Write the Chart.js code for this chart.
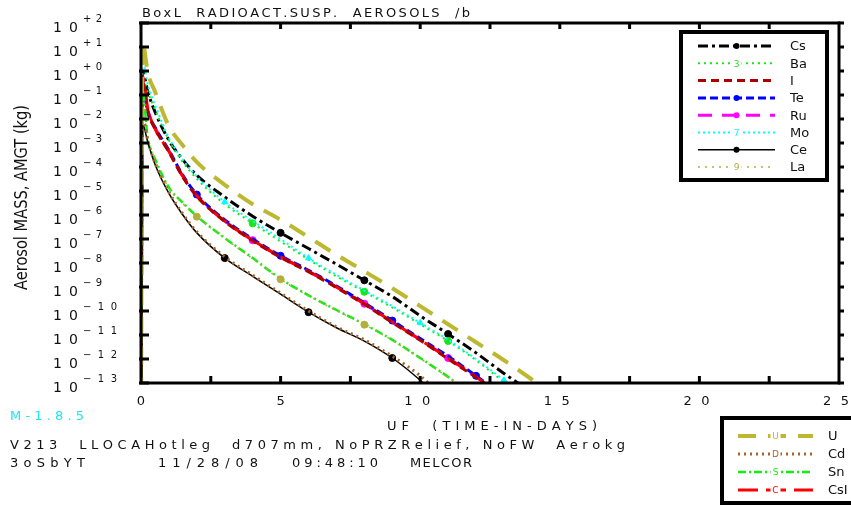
<!DOCTYPE html>
<html>
<head>
<meta charset="utf-8">
<title>BoxL radioact. susp. aerosols</title>
<script src="https://cdn.jsdelivr.net/npm/chart.js@4.4.1/dist/chart.umd.min.js"></script>
<style>
  html, body { margin: 0; padding: 0; background: #fff; }
  canvas { display: block; }
</style>
</head>
<body>
<canvas id="chart" width="851" height="505"></canvas>
<script>
// time axis (days) shared by every series
const days = [0, 0.05, 0.25, 0.5, 1, 1.5, 2, 3, 4, 5, 6, 7, 8, 9, 10, 11, 12, 13, 14, 15];

// suspended aerosol mass (kg)
const csMass  = [1e-16, 1.0, 0.13, 2.0e-2, 1.3e-3, 2.0e-4, 4.5e-5, 5.6e-6, 8.9e-7, 1.8e-7, 4.0e-8, 8.9e-9, 1.9e-9, 4.0e-10, 6.3e-11, 1.1e-11, 1.8e-12, 2.5e-13, 4.0e-14, null];
const baMass  = [1e-16, 0.5, 0.13, 2.5e-2, 1.3e-3, 1.6e-4, 3.2e-5, 2.8e-6, 4.5e-7, 7.9e-8, 1.4e-8, 2.8e-9, 6.3e-10, 1.4e-10, 2.8e-11, 5.6e-12, 8.9e-13, 1.1e-13, 1.4e-14, null];
const iMass   = [1e-16, 0.4, 2.0e-2, 4.0e-3, 4.2e-4, 3.8e-5, 6.0e-6, 5.4e-7, 8.5e-8, 1.7e-8, 4.3e-9, 9.5e-10, 1.9e-10, 3.3e-11, 6.0e-12, 1.0e-12, 1.7e-13, 2.3e-14, null, null];
const teMass  = [1e-16, 0.25, 1.8e-2, 4.5e-3, 5.0e-4, 4.5e-5, 7.1e-6, 6.3e-7, 1.0e-7, 2.0e-8, 5.0e-9, 1.1e-9, 2.2e-10, 4.0e-11, 7.1e-12, 1.3e-12, 2.0e-13, 2.8e-14, null, null];
const ruMass  = [1e-16, 0.2, 2.2e-2, 4.5e-3, 4.5e-4, 4.0e-5, 6.3e-6, 5.6e-7, 8.9e-8, 1.8e-8, 4.5e-9, 1.0e-9, 2.0e-10, 3.5e-11, 6.3e-12, 1.1e-12, 1.8e-13, 2.5e-14, null, null];
const moMass  = [1e-16, 2.5, 0.25, 4.0e-2, 1.6e-3, 2.0e-4, 4.0e-5, 3.5e-6, 5.6e-7, 1.0e-7, 1.6e-8, 3.2e-9, 7.1e-10, 1.6e-10, 3.2e-11, 6.3e-12, 1.0e-12, 1.3e-13, 1.6e-14, null];
const ceMass  = [1e-16, 6.3e-3, 1.0e-3, 1.3e-4, 7.9e-6, 1.0e-6, 1.8e-7, 1.6e-8, 2.8e-9, 5.0e-10, 8.9e-11, 2.0e-11, 5.6e-12, 1.1e-12, 1.3e-13, 1.0e-14, null, null, null, null];
const laMass  = [1e-16, 0.06, 1.1e-3, 2.0e-4, 1.3e-5, 3.0e-6, 8.5e-7, 1.05e-7, 1.5e-8, 2.1e-9, 4.3e-10, 1.05e-10, 2.7e-11, 6.0e-12, 1.05e-12, 1.7e-13, 2.4e-14, null, null, null];
const uMass   = [1e-16, 16, 0.79, 0.14, 5.0e-3, 7.9e-4, 1.6e-4, 1.8e-5, 2.8e-6, 6.3e-7, 1.2e-7, 2.2e-8, 4.5e-9, 8.9e-10, 1.6e-10, 2.8e-11, 5.0e-12, 8.9e-13, 1.4e-13, 2.0e-14];
const cdMass  = [1e-16, 1.0e-2, 1.2e-3, 1.5e-4, 9.0e-6, 1.1e-6, 2.0e-7, 1.8e-8, 3.1e-9, 5.6e-10, 1.0e-10, 2.2e-11, 6.3e-12, 1.3e-12, 2.0e-13, 1.6e-14, null, null, null, null];
const snMass  = [1e-16, 0.16, 1.3e-3, 2.2e-4, 1.4e-5, 3.2e-6, 8.9e-7, 1.1e-7, 1.6e-8, 2.2e-9, 4.5e-10, 1.1e-10, 2.8e-11, 6.3e-12, 1.1e-12, 1.8e-13, 2.5e-14, null, null, null];
const csiMass = [1e-16, 0.6, 2.5e-2, 4.0e-3, 4.5e-4, 4.0e-5, 6.3e-6, 5.6e-7, 8.9e-8, 1.8e-8, 4.5e-9, 1.0e-9, 2.0e-10, 3.5e-11, 6.3e-12, 1.1e-12, 1.8e-13, 2.5e-14, null, null];

// ticks
const yExponents = [2, 1, 0, -1, -2, -3, -4, -5, -6, -7, -8, -9, -10, -11, -12, -13];
const xLabels = [0, 5, 10, 15, 20, 25];
const xTickMarks = [2.5, 5, 7.5, 10, 12.5, 15, 17.5, 20, 22.5];

// legend groups
const legendTop = ['Cs', 'Ba', 'I', 'Te', 'Ru', 'Mo', 'Ce', 'La'];
const legendBottom = ['U', 'Cd', 'Sn', 'CsI'];

// styles (marks = data indices that carry a symbol)
const series = [
  { label: 'U',   data: uMass,   color: '#bdb832', width: 4,   dash: [18, 12],      tag: 'U', marks: [],          shape: 'circle' },
  { label: 'Cd',  data: cdMass,  color: '#a8642a', width: 3,   dash: [2, 4],        tag: 'D', marks: [],          shape: 'triangle' },
  { label: 'Ce',  data: ceMass,  color: '#000000', width: 1.5, dash: [],            tag: '',  marks: [7, 10, 13], shape: 'circle' },
  { label: 'La',  data: laMass,  color: '#b5ae3c', width: 1.5, dash: [2, 5],        tag: '9', marks: [6, 9, 12],  shape: 'circle' },
  { label: 'Sn',  data: snMass,  color: '#11ee11', width: 2.5, dash: [8, 3, 2, 3],  tag: 'S', marks: [],          shape: 'circle' },
  { label: 'I',   data: iMass,   color: '#aa0000', width: 3,   dash: [8, 5],        tag: '',  marks: [],          shape: 'circle' },
  { label: 'CsI', data: csiMass, color: '#ff0000', width: 3,   dash: [20, 8],       tag: 'C', marks: [],          shape: 'circle' },
  { label: 'Te',  data: teMass,  color: '#0000ff', width: 3,   dash: [8, 4],        tag: '',  marks: [6, 9, 13, 16], shape: 'circle' },
  { label: 'Ru',  data: ruMass,  color: '#ff00ff', width: 3,   dash: [14, 10],      tag: '',  marks: [8, 12, 15], shape: 'circle' },
  { label: 'Mo',  data: moMass,  color: '#00ffff', width: 2,   dash: [2, 3],        tag: '7', marks: [7, 10, 14, 17], shape: 'triangle' },
  { label: 'Ba',  data: baMass,  color: '#19e619', width: 2,   dash: [2, 4],        tag: '3', marks: [8, 12, 15], shape: 'circle' },
  { label: 'Cs',  data: csMass,  color: '#000000', width: 3,   dash: [10, 4, 3, 4], tag: '',  marks: [9, 12, 15], shape: 'circle' }
];

function makeDataset(s){
  return {
    label: s.label,
    data: days.map((d, i) => ({ x: d, y: s.data[i] })),
    borderColor: s.color,
    backgroundColor: s.color,
    borderWidth: s.width,
    borderDash: s.dash,
    cubicInterpolationMode: 'monotone',
    spanGaps: false,
    pointStyle: s.shape,
    pointRadius: ctx => s.marks.includes(ctx.dataIndex) ? 3.5 : 0,
    pointBorderWidth: 1,
    tag: s.tag,
    marks: s.marks
  };
}

const FONT = '"DejaVu Sans", sans-serif';

// text with letters spread to fill a given width (plotter look)
function spaced(ctx, str, x, y, width){
  const chars = [...str];
  const widths = chars.map(c => ctx.measureText(c).width);
  const total = widths.reduce((s, w) => s + w, 0);
  const gap = chars.length > 1 ? (width - total) / (chars.length - 1) : 0;
  let cx = x;
  chars.forEach((c, i) => { ctx.fillText(c, cx, y); cx += widths[i] + gap; });
}

function seg(ctx, x1, y1, x2, y2){
  ctx.beginPath(); ctx.moveTo(x1, y1); ctx.lineTo(x2, y2); ctx.stroke();
}

const paper = {
  id: 'paper',
  beforeDraw(chart){
    const ctx = chart.ctx;
    ctx.save();
    ctx.fillStyle = '#fff';
    ctx.fillRect(0, 0, chart.width, chart.height);
    ctx.restore();
  }
};

function drawLegend(ctx, chart, names, box, rowY, step, x1, x2, labelX){
  ctx.save();
  ctx.fillStyle = '#fff';
  ctx.fillRect(box[0], box[1], box[2] - box[0], box[3] - box[1]);
  ctx.strokeStyle = '#000';
  ctx.lineWidth = 4;
  ctx.setLineDash([]);
  ctx.strokeRect(box[0], box[1], box[2] - box[0], box[3] - box[1]);
  names.forEach((name, i) => {
    const ds = chart.data.datasets.find(d => d.label === name);
    const y = rowY + i * step;
    const mid = (x1 + x2) / 2;
    ctx.strokeStyle = ds.borderColor;
    ctx.lineWidth = ds.borderWidth;
    ctx.setLineDash(ds.borderDash);
    seg(ctx, x1, y, x2, y);
    ctx.setLineDash([]);
    if(ds.tag){
      ctx.fillStyle = '#fff';
      ctx.fillRect(mid - 5, y - 6, 10, 12);
      ctx.fillStyle = ds.borderColor;
      ctx.font = '9px ' + FONT;
      ctx.textAlign = 'center';
      ctx.textBaseline = 'middle';
      ctx.fillText(ds.tag, mid, y + 1);
    } else if(ds.marks.length){
      ctx.fillStyle = ds.borderColor;
      ctx.beginPath(); ctx.arc(mid, y, 3, 0, Math.PI * 2); ctx.fill();
    }
    ctx.fillStyle = '#111';
    ctx.font = '13px ' + FONT;
    ctx.textAlign = 'left';
    ctx.textBaseline = 'middle';
    ctx.fillText(name, labelX, y + 1);
  });
  ctx.restore();
}

const decor = {
  id: 'decor',
  afterDraw(chart){
    const { ctx, chartArea: a, scales: { x, y } } = chart;
    ctx.save();
    ctx.setLineDash([]);
    ctx.strokeStyle = '#000';

    // frame and ticks
    ctx.lineWidth = 3;
    ctx.strokeRect(a.left, a.top, a.right - a.left, a.bottom - a.top);
    yExponents.forEach(e => {
      const py = y.getPixelForValue(Math.pow(10, e));
      seg(ctx, a.left - 2, py, a.left + 8, py);
      seg(ctx, a.right - 1, py, a.right + 5, py);
    });
    xTickMarks.forEach(v => {
      const px = x.getPixelForValue(v);
      seg(ctx, px, a.bottom, px, a.bottom - 7);
      seg(ctx, px, a.top, px, a.top + 6);
    });

    ctx.fillStyle = '#111';
    ctx.textAlign = 'left';
    ctx.textBaseline = 'alphabetic';

    // y tick labels: 10 with raised exponent
    yExponents.forEach(e => {
      const py = y.getPixelForValue(Math.pow(10, e));
      ctx.font = '14px ' + FONT;
      spaced(ctx, '10', 53, py + 9, 25);
      const sup = (e >= 0 ? '+' : '\u2212') + Math.abs(e);
      ctx.font = '10px ' + FONT;
      spaced(ctx, sup, 83, py - 1, sup.length > 2 ? 34 : 19);
    });

    // x tick labels
    ctx.font = '13px ' + FONT;
    xLabels.forEach(v => {
      const px = x.getPixelForValue(v);
      const s = String(v);
      if(s.length > 1){
        spaced(ctx, s, px - 3 - 13, 405, 26);
      } else {
        ctx.textAlign = 'center';
        ctx.fillText(s, px, 405);
        ctx.textAlign = 'left';
      }
    });

    // titles
    ctx.font = '13px ' + FONT;
    spaced(ctx, 'BoxL  RADIOACT.SUSP.  AEROSOLS  /b', 142, 17, 328);
    spaced(ctx, 'UF  (TIME-IN-DAYS)', 387, 430, 210);

    // y title, tall and narrow
    ctx.save();
    ctx.translate(27, 290);
    ctx.rotate(-Math.PI / 2);
    ctx.font = '17px ' + FONT;
    const yt = 'Aerosol MASS, AMGT (kg)';
    const yw = ctx.measureText(yt).width;
    ctx.scale(185 / yw, 1);
    ctx.fillText(yt, 0, 0);
    ctx.restore();

    // footer
    ctx.font = '13px ' + FONT;
    ctx.fillStyle = '#22e4ee';
    spaced(ctx, 'M-1.8.5', 10, 420, 74);
    ctx.fillStyle = '#111';
    spaced(ctx, 'V213  LLOCAHotleg  d707mm, NoPRZRelief, NoFW  Aerokg', 10, 449, 615);
    spaced(ctx, '3oSbYT', 10, 467, 75);
    spaced(ctx, '11/28/08', 158, 467, 100);
    spaced(ctx, '09:48:10', 292, 467, 86);
    spaced(ctx, 'MELCOR', 410, 467, 62);
    ctx.restore();

    drawLegend(ctx, chart, legendTop, [681, 32, 827, 180], 46, 17.3, 698, 775, 790);
    drawLegend(ctx, chart, legendBottom, [722, 418, 870, 503], 436, 18, 738, 813, 828);
  }
};

const chart = new Chart(document.getElementById('chart'), {
  type: 'line',
  data: { datasets: series.map(makeDataset) },
  options: {
    responsive: false,
    animation: false,
    devicePixelRatio: 1,
    layout: { padding: { left: 141, top: 23, right: 12, bottom: 122 } },
    plugins: { legend: { display: false }, tooltip: { enabled: false } },
    scales: {
      x: { type: 'linear', min: 0, max: 25, display: false },
      y: { type: 'logarithmic', min: 1e-13, max: 1e2, display: false }
    }
  },
  plugins: [paper, decor]
});
</script>
</body>
</html>
